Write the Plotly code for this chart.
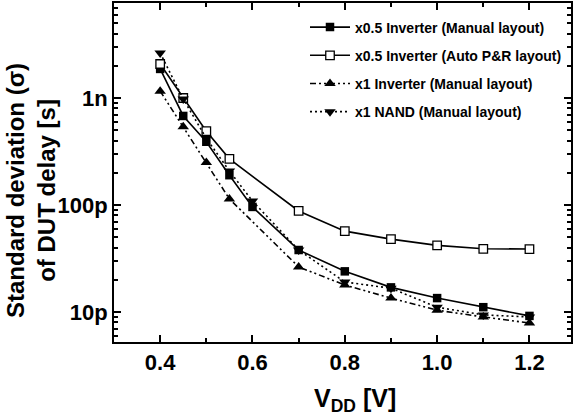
import plotly.graph_objects as go

# ---- data ----
x_man05 = [0.4, 0.45, 0.5, 0.55, 0.6, 0.7, 0.8, 0.9, 1.0, 1.1, 1.2]
y_man05 = [1.87e-9, 0.68e-9, 0.39e-9, 0.19e-9, 96e-12, 38e-12, 24e-12, 17e-12, 13.5e-12, 11.1e-12, 9.2e-12]

x_auto05 = [0.4, 0.45, 0.5, 0.55, 0.7, 0.8, 0.9, 1.0, 1.1, 1.2]
y_auto05 = [2.08e-9, 1.0e-9, 0.49e-9, 0.27e-9, 88e-12, 57e-12, 48e-12, 42e-12, 39e-12, 38.8e-12]

x_inv1 = [0.4, 0.45, 0.5, 0.55, 0.7, 0.8, 0.9, 1.0, 1.1, 1.2]
y_inv1 = [1.16e-9, 0.54e-9, 0.25e-9, 0.114e-9, 26.4e-12, 17.9e-12, 13.5e-12, 10.4e-12, 9.0e-12, 7.9e-12]

x_nand1 = [0.4, 0.45, 0.5, 0.55, 0.6, 0.7, 0.8, 0.9, 1.0, 1.1, 1.2]
y_nand1 = [2.64e-9, 0.98e-9, 0.42e-9, 0.208e-9, 0.109e-9, 38e-12, 19.1e-12, 16.7e-12, 11.1e-12, 9.4e-12, 9.0e-12]

names = ["x0.5 Inverter (Manual layout)", "x0.5 Inverter (Auto P&R layout)",
         "x1 Inverter (Manual layout)", "x1 NAND (Manual layout)"]

y_tickvals = [1e-11, 1e-10, 1e-9]
y_ticktext = ["10p", "100p", "1n"]
x_tickvals = [0.4, 0.6, 0.8, 1.0, 1.2]
x_ticktext = ["0.4", "0.6", "0.8", "1.0", "1.2"]

x_title = "V<sub>DD</sub> [V]"
y_title = "Standard deviation (σ)<br>of DUT delay [s]"

FONT = "Liberation Sans, Arial, sans-serif"

fig = go.Figure()
fig.add_trace(go.Scatter(x=x_man05, y=y_man05, name=names[0], mode="lines+markers",
                         legendgroup="g0",
                         line=dict(color="black", width=1.6),
                         marker=dict(symbol="square", size=8.5, color="black")))
fig.add_trace(go.Scatter(x=x_auto05, y=y_auto05, name=names[1], mode="lines+markers",
                         legendgroup="g1",
                         line=dict(color="black", width=1.6),
                         marker=dict(symbol="square", size=8.5, color="white",
                                     line=dict(color="black", width=1.3))))
fig.add_trace(go.Scatter(x=x_inv1, y=y_inv1, name=names[2], mode="lines+markers",
                         legendgroup="g2",
                         line=dict(color="black", width=1.6, dash="6px,3px,2px,3px,2px,3px"),
                         marker=dict(symbol="triangle-up", size=10, color="black")))
fig.add_trace(go.Scatter(x=x_nand1, y=y_nand1, name=names[3], mode="lines+markers",
                         legendgroup="g3",
                         line=dict(color="black", width=1.6, dash="2px,3px"),
                         marker=dict(symbol="triangle-down", size=10, color="black")))

minor_y = [m * 10.0 ** e for e in range(-12, -8) for m in range(2, 10)]

L, R, T, B, W, H = 114, 4, 3, 74, 575, 416
PW, PH = W - L - R, H - T - B


def px2paper(px, py):
    return (px - L) / PW, 1 - (py - T) / PH


fig.update_layout(
    width=W, height=H,
    margin=dict(l=L, r=R, t=T, b=B, autoexpand=False),
    paper_bgcolor="white", plot_bgcolor="white",
    font=dict(family=FONT, color="black"),
    showlegend=True,
    legend=dict(x=px2paper(305, 0)[0], y=0.975, xanchor="left", yanchor="top",
                bgcolor="rgba(0,0,0,0)", borderwidth=0, itemwidth=40,
                font=dict(family=FONT, size=14, weight="bold"),
                tracegroupgap=7),
    xaxis=dict(
        range=[0.3, 1.29], showgrid=False, zeroline=False,
        showline=True, linecolor="black", linewidth=2, mirror="ticks",
        ticks="inside", ticklen=7, tickwidth=2, tickcolor="black",
        tickvals=x_tickvals, ticktext=x_ticktext,
        tickfont=dict(family=FONT, size=22, weight="bold"),
        minor=dict(ticks="inside", ticklen=4, tickwidth=2, tickcolor="black",
                   tickvals=[0.5, 0.7, 0.9, 1.1], showgrid=False),
    ),
    yaxis=dict(
        type="log", range=[-11.28, -8.112], showgrid=False, zeroline=False,
        showline=True, linecolor="black", linewidth=2, mirror="ticks",
        ticks="inside", ticklen=7, tickwidth=2, tickcolor="black",
        tickvals=y_tickvals, ticktext=y_ticktext,
        tickfont=dict(family=FONT, size=22, weight="bold"),
        minor=dict(ticks="inside", ticklen=4, tickwidth=1.5, tickcolor="black",
                   tickvals=minor_y, showgrid=False),
    ),
)

ax, ay = px2paper(355, 382)
fig.add_annotation(text=x_title, xref="paper", yref="paper", x=ax, y=ay,
                   xanchor="center", yanchor="top", showarrow=False,
                   font=dict(family=FONT, size=25, weight="bold"))
bx, by = px2paper(31, 191)
fig.add_annotation(text=y_title, xref="paper", yref="paper", x=bx, y=by,
                   xanchor="center", yanchor="middle", showarrow=False, textangle=-90,
                   font=dict(family=FONT, size=24, weight="bold"))

fig.write_html("out.html")
